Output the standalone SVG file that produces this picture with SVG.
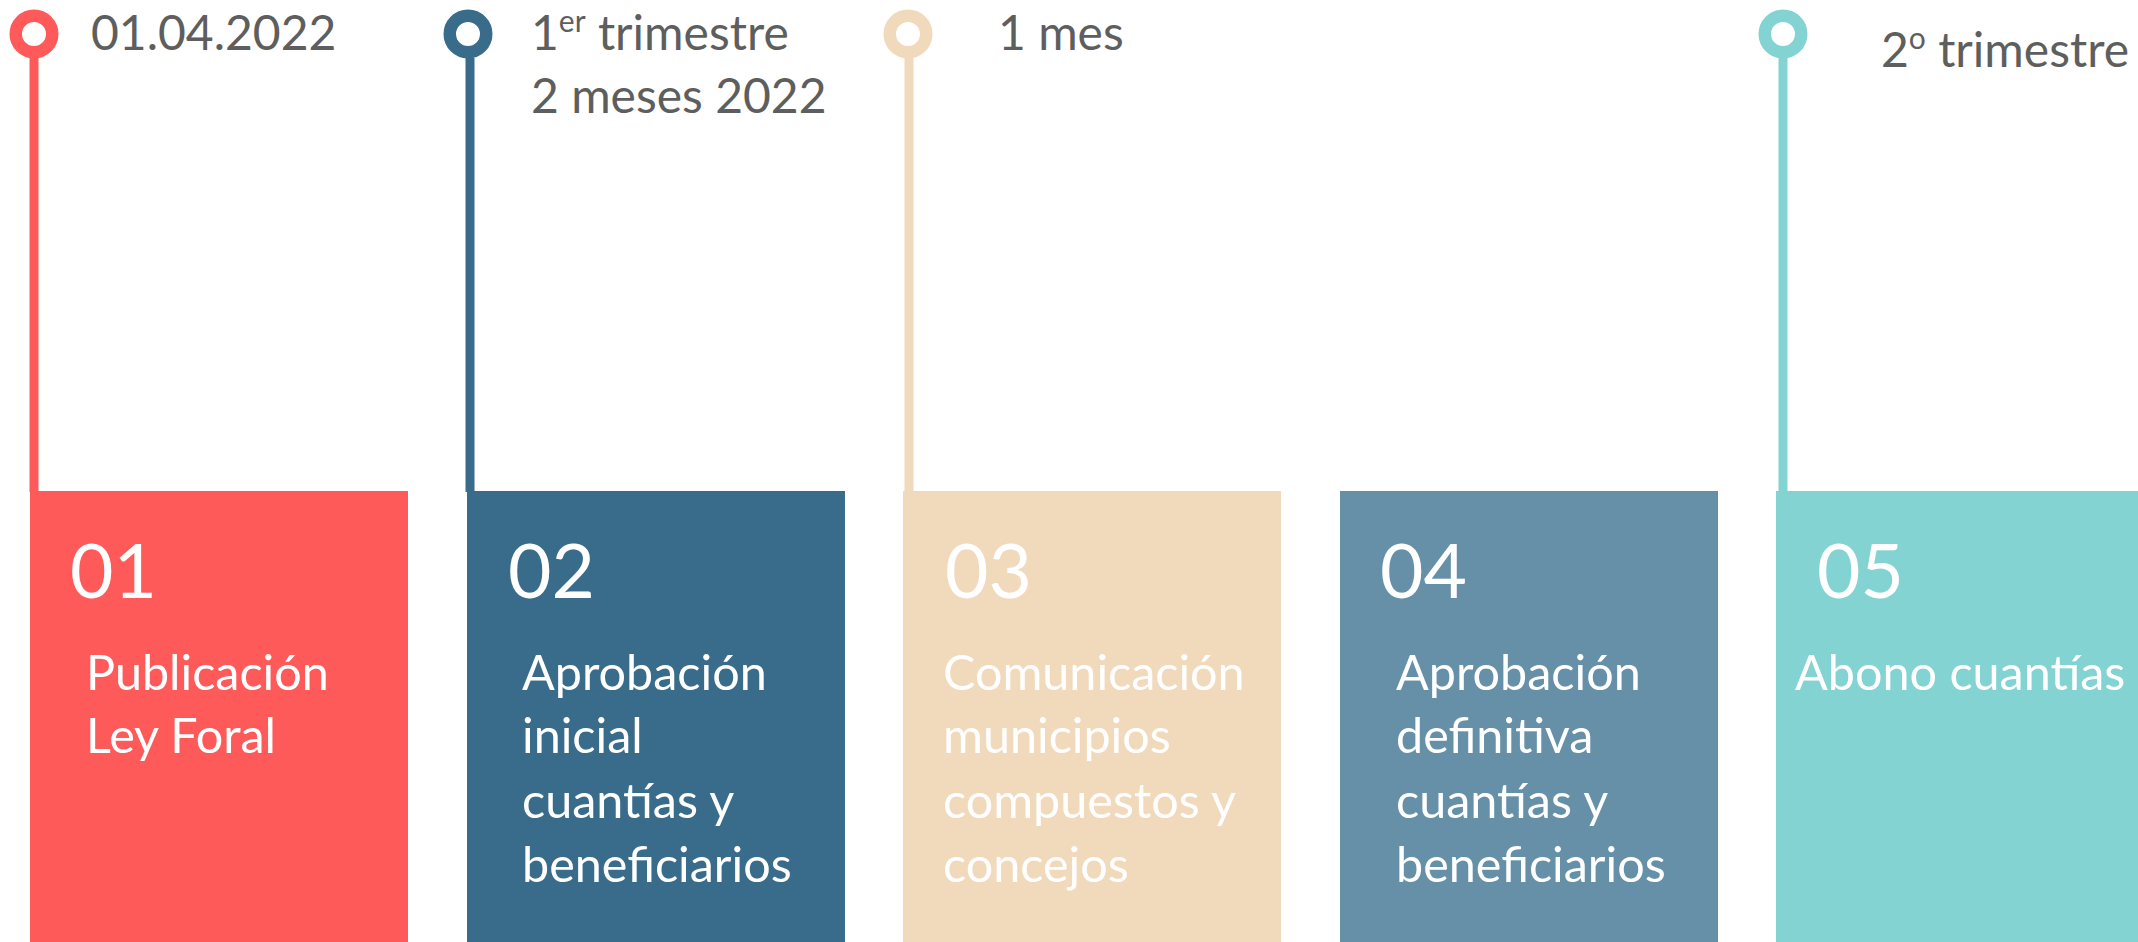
<svg xmlns="http://www.w3.org/2000/svg" width="2138" height="942" viewBox="0 0 2138 942">
<style>
.lbl{font-family:Lato,"Open Sans",sans-serif;font-size:48px;fill:#5E5E5E}
.num{font-family:Lato,"Open Sans",sans-serif;font-size:75px;fill:#FFFFFF}
.txt{font-family:Lato,"Open Sans",sans-serif;font-size:48.5px;fill:#FFFFFF}
.ring{fill:#FFFFFF;stroke-width:12.5}
.sup{font-size:30px}
</style>
<rect width="2138" height="942" fill="#FFFFFF"/>
<g id="connectors">
<line x1="34" y1="58" x2="34" y2="492" stroke="#FF5A5A" stroke-width="9"/>
<line x1="470" y1="58" x2="470" y2="492" stroke="#396C8A" stroke-width="9"/>
<line x1="909" y1="58" x2="909" y2="492" stroke="#F1D9BB" stroke-width="9"/>
<line x1="1783" y1="58" x2="1783" y2="492" stroke="#84D3D3" stroke-width="9"/>
</g>
<g id="marker1"><circle class="ring" cx="34" cy="34" r="18.25" stroke="#FF5A5A"/><text class="lbl" x="91" y="50">01.04.2022</text></g>
<g id="marker2"><circle class="ring" cx="468" cy="34" r="18.25" stroke="#396C8A"/><text class="lbl" x="531" y="50">1<tspan class="sup" dy="-18">er</tspan><tspan dy="18"> trimestre</tspan></text><text class="lbl" x="531" y="113">2 meses 2022</text></g>
<g id="marker3"><circle class="ring" cx="908" cy="34" r="18.25" stroke="#F1D9BB"/><text class="lbl" x="998" y="50">1 mes</text></g>
<g id="marker5"><circle class="ring" cx="1783" cy="34" r="18.25" stroke="#84D3D3"/><text class="lbl" x="1881" y="67">2<tspan class="sup" dy="-18">o</tspan><tspan dy="18"> trimestre</tspan></text></g>
<g id="step1"><rect x="30" y="491" width="378" height="451" fill="#FF5A5A"/><text class="num" x="70" y="598">01</text><text class="txt" x="86" y="690">Publicación</text><text class="txt" x="86" y="753">Ley Foral</text></g>
<g id="step2"><rect x="467" y="491" width="378" height="451" fill="#396C8A"/><text class="num" x="508" y="598">02</text><text class="txt" x="522" y="690">Aprobación</text><text class="txt" x="522" y="753">inicial</text><text class="txt" x="522" y="818">cuantías y</text><text class="txt" x="522" y="882">beneficiarios</text></g>
<g id="step3"><rect x="903" y="491" width="378" height="451" fill="#F1D9BB"/><text class="num" x="945" y="598">03</text><text class="txt" x="943" y="690">Comunicación</text><text class="txt" x="943" y="753">municipios</text><text class="txt" x="943" y="818">compuestos y</text><text class="txt" x="943" y="882">concejos</text></g>
<g id="step4"><rect x="1340" y="491" width="378" height="451" fill="#6590A8"/><text class="num" x="1380" y="598">04</text><text class="txt" x="1396" y="690">Aprobación</text><text class="txt" x="1396" y="753">definitiva</text><text class="txt" x="1396" y="818">cuantías y</text><text class="txt" x="1396" y="882">beneficiarios</text></g>
<g id="step5"><rect x="1776" y="491" width="362" height="451" fill="#84D3D3"/><text class="num" x="1817" y="598">05</text><text class="txt" x="1795" y="690">Abono cuantías</text></g>
</svg>
